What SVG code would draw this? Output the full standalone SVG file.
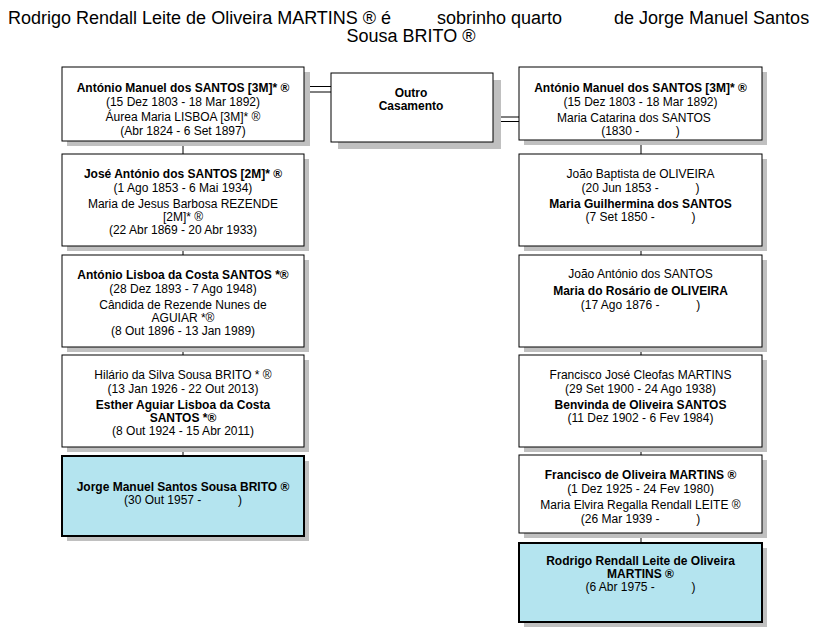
<svg xmlns="http://www.w3.org/2000/svg" width="817" height="629" viewBox="0 0 817 629">
<style>
text{font-family:"Liberation Sans",Arial,sans-serif;font-size:12px;fill:#000;text-anchor:middle}
.t{font-size:18px;text-anchor:start}
.b{font-weight:bold}
.box{fill:#fff;stroke:#000;stroke-width:1}
.sel{fill:#B4E4EF;stroke:#000;stroke-width:2}
.sh{fill:#C0C0C0}
.ln{stroke:#000;stroke-width:1;fill:none}
</style>
<rect width="817" height="629" fill="#fff"/>
<g id="title">
<text class="t" x="8" y="24">Rodrigo Rendall Leite de Oliveira MARTINS ® é</text>
<text class="t" x="437" y="24">sobrinho quarto</text>
<text class="t" x="614" y="24">de Jorge Manuel Santos</text>
<text class="t" x="411" y="42" style="text-anchor:middle">Sousa BRITO ®</text>
</g>
<g id="connectors">
<line class="ln" x1="183" y1="141" x2="183" y2="154"/>
<line class="ln" x1="183" y1="246" x2="183" y2="255"/>
<line class="ln" x1="183" y1="347" x2="183" y2="355"/>
<line class="ln" x1="183" y1="447" x2="183" y2="456"/>
<line class="ln" x1="641" y1="140" x2="641" y2="154"/>
<line class="ln" x1="641" y1="246" x2="641" y2="255"/>
<line class="ln" x1="641" y1="347" x2="641" y2="355"/>
<line class="ln" x1="641" y1="447" x2="641" y2="455"/>
<line class="ln" x1="641" y1="533" x2="641" y2="543"/>
<line class="ln" x1="297" y1="86.5" x2="331" y2="86.5"/>
<line class="ln" x1="297" y1="92" x2="331" y2="92"/>
<line class="ln" x1="493" y1="117" x2="555" y2="117"/>
<line class="ln" x1="493" y1="121.5" x2="555" y2="121.5"/>
</g>
<g id="L1">
<rect class="sh" x="67" y="72" width="243" height="74"/>
<rect class="box" x="62" y="67" width="242" height="74"/>
<text class="b" x="183" y="92">António Manuel dos SANTOS [3M]* ®</text>
<text x="183" y="105.5">(15 Dez 1803 - 18 Mar 1892)</text>
<text x="183" y="121">Áurea Maria LISBOA [3M]* ®</text>
<text x="183" y="134.5">(Abr 1824 - 6 Set 1897)</text>
</g>
<g id="M">
<rect class="sh" x="338" y="80" width="163" height="69"/>
<rect class="box" x="331" y="73" width="162" height="69"/>
<text class="b" x="411" y="97">Outro</text>
<text class="b" x="411" y="110">Casamento</text>
</g>
<g id="R1">
<rect class="sh" x="524" y="72" width="243" height="73"/>
<rect class="box" x="519" y="67" width="243" height="73"/>
<text class="b" x="640.5" y="92">António Manuel dos SANTOS [3M]* ®</text>
<text x="640.5" y="105.5">(15 Dez 1803 - 18 Mar 1892)</text>
<text x="557" y="121.5" style="text-anchor:start">Maria Catarina dos SANTOS</text>
<text x="640.5" y="135" xml:space="preserve">(1830 -           )</text>
</g>
<g id="L2">
<rect class="sh" x="67" y="159" width="242" height="92"/>
<rect class="box" x="62" y="154" width="242" height="92"/>
<text class="b" x="183" y="178">José António dos SANTOS [2M]* ®</text>
<text x="183" y="191.5">(1 Ago 1853 - 6 Mai 1934)</text>
<text x="183" y="208">Maria de Jesus Barbosa REZENDE</text>
<text x="183" y="221">[2M]* ®</text>
<text x="183" y="234">(22 Abr 1869 - 20 Abr 1933)</text>
</g>
<g id="R2">
<rect class="sh" x="524" y="159" width="243" height="92"/>
<rect class="box" x="519" y="154" width="243" height="92"/>
<text x="640.5" y="177.5">João Baptista de OLIVEIRA</text>
<text x="640.5" y="191.5" xml:space="preserve">(20 Jun 1853 -           )</text>
<text class="b" x="640.5" y="208">Maria Guilhermina dos SANTOS</text>
<text x="640.5" y="221" xml:space="preserve">(7 Set 1850 -           )</text>
</g>
<g id="L3">
<rect class="sh" x="67" y="260" width="242" height="92"/>
<rect class="box" x="62" y="255" width="242" height="92"/>
<text class="b" x="183" y="279">António Lisboa da Costa SANTOS *®</text>
<text x="183" y="292.5">(28 Dez 1893 - 7 Ago 1948)</text>
<text x="183" y="309">Cândida de Rezende Nunes de</text>
<text x="183" y="322">AGUIAR *®</text>
<text x="183" y="335">(8 Out 1896 - 13 Jan 1989)</text>
</g>
<g id="R3">
<rect class="sh" x="524" y="260" width="243" height="92"/>
<rect class="box" x="519" y="255" width="243" height="92"/>
<text x="640.5" y="278">João António dos SANTOS</text>
<text class="b" x="640.5" y="295">Maria do Rosário de OLIVEIRA</text>
<text x="640.5" y="308.5" xml:space="preserve">(17 Ago 1876 -           )</text>
</g>
<g id="L4">
<rect class="sh" x="67" y="360" width="242" height="92"/>
<rect class="box" x="62" y="355" width="242" height="92"/>
<text x="183" y="378.5">Hilário da Silva Sousa BRITO * ®</text>
<text x="183" y="392.5">(13 Jan 1926 - 22 Out 2013)</text>
<text class="b" x="183" y="408.5">Esther Aguiar Lisboa da Costa</text>
<text class="b" x="183" y="421.5">SANTOS *®</text>
<text x="183" y="434.5">(8 Out 1924 - 15 Abr 2011)</text>
</g>
<g id="R4">
<rect class="sh" x="524" y="360" width="243" height="92"/>
<rect class="box" x="519" y="355" width="243" height="92"/>
<text x="640.5" y="378.5">Francisco José Cleofas MARTINS</text>
<text x="640.5" y="392.5">(29 Set 1900 - 24 Ago 1938)</text>
<text class="b" x="640.5" y="409">Benvinda de Oliveira SANTOS</text>
<text x="640.5" y="421.5">(11 Dez 1902 - 6 Fev 1984)</text>
</g>
<g id="L5">
<rect class="sh" x="67" y="461" width="242" height="80"/>
<rect class="sel" x="62" y="456" width="242" height="80"/>
<text class="b" x="183" y="491">Jorge Manuel Santos Sousa BRITO ®</text>
<text x="183" y="504" xml:space="preserve">(30 Out 1957 -           )</text>
</g>
<g id="R5">
<rect class="sh" x="524" y="460" width="243" height="78"/>
<rect class="box" x="519" y="455" width="243" height="78"/>
<text class="b" x="640.5" y="478.5">Francisco de Oliveira MARTINS ®</text>
<text x="640.5" y="492.5">(1 Dez 1925 - 24 Fev 1980)</text>
<text x="640.5" y="509">Maria Elvira Regalla Rendall LEITE ®</text>
<text x="640.5" y="522.5" xml:space="preserve">(26 Mar 1939 -           )</text>
</g>
<g id="R6">
<rect class="sh" x="524" y="548" width="243" height="79"/>
<rect class="sel" x="519" y="543" width="243" height="79"/>
<text class="b" x="640.5" y="564.5">Rodrigo Rendall Leite de Oliveira</text>
<text class="b" x="640.5" y="577.5">MARTINS ®</text>
<text x="640.5" y="590.5" xml:space="preserve">(6 Abr 1975 -           )</text>
</g>
</svg>
